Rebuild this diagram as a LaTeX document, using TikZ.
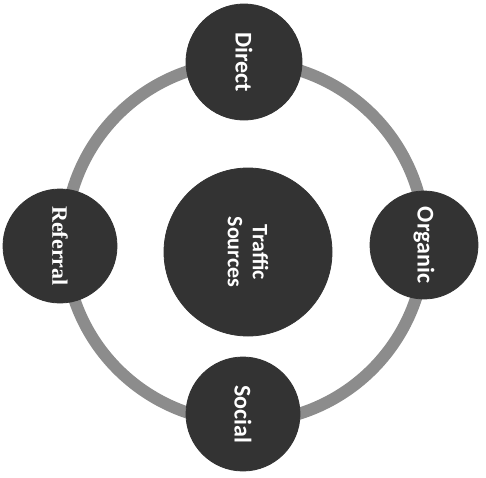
\documentclass[tikz,border=0pt]{standalone}
\usepackage{fontspec}
\setmainfont{Carlito}
\newfontfamily\serifb{Liberation Serif}
\definecolor{ballc}{HTML}{333333}
\definecolor{ringc}{HTML}{8C8C8C}
\begin{document}
\begin{tikzpicture}[x=1pt,y=-1pt,
  ball/.style={circle,fill=ballc,draw=black!80,line width=0.8pt,inner sep=0pt},
  lbl/.style={text=white,font=\bfseries\fontsize{24}{26}\selectfont,rotate=-90,align=center}]
\useasboundingbox (0,0) rectangle (486,477);
\fill[white] (0,0) rectangle (486,477);
\coordinate (c) at (245,242);
\draw[ringc,line width=12pt] (c) circle[radius=180];
\node[ball,minimum size=116] (direct) at (244,62) {};
\node[ball,minimum size=108] (organic) at (424,245) {};
\node[ball,minimum size=114] (social) at (243,414) {};
\node[ball,minimum size=114] (referral) at (60,246) {};
\node[ball,minimum size=168] (center) at (248,252) {};
\node[lbl] at (direct) {Direct};
\node[lbl] at (organic) {Organic};
\node[lbl] at (social) {Social};
\node[lbl,font=\serifb\bfseries\fontsize{22}{24}\selectfont] at (referral) {Referral};
\node[lbl,font=\bfseries\fontsize{22}{25}\selectfont] at (center) {Traffic\\Sources};
\end{tikzpicture}
\end{document}
